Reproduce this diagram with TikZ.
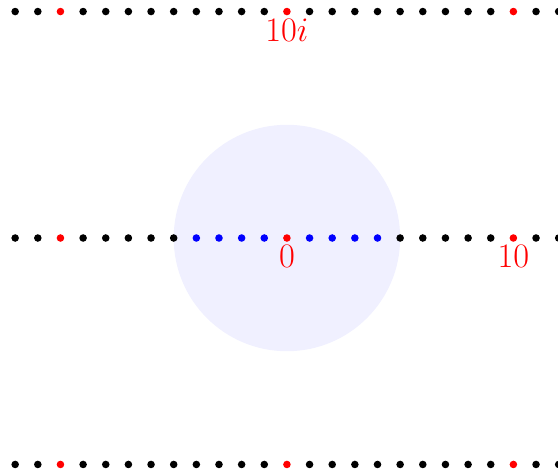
\documentclass[tikz,border=0pt]{standalone}
\usepackage{tikz}
\usetikzlibrary{positioning}
\tikzset{
  pt/.style={circle, fill=#1, inner sep=0pt, minimum size=3.8pt},
  lab/.style={text=red, font=\fontsize{16}{19}\selectfont},
  disk/.style={fill=blue!6},
}
\begin{document}
\begin{tikzpicture}[x=0.4cm, y=0.4cm]
    \useasboundingbox (-12.67,-10.48) rectangle (11.97,10.51);
    \clip (-12.67,-10.48) rectangle (11.97,10.51);
    % disk of radius 5 round the origin
    \fill[disk] (0,0) circle (5);
    % lattice points on the three rows
    \foreach \y/\r in {10/t, 0/m, -10/b}
    {
      \foreach \x in {-12,...,12}
      {
        \pgfmathtruncatemacro\k{mod(abs(\x),10)==0 ? 1 : ((\y==0 && abs(\x)<5) ? 2 : 0)}
        \ifcase\k \def\col{black}\or \def\col{red}\or \def\col{blue}\fi
        \node[pt=\col] (d\r\x) at (\x,\y) {};
      }
    }
    \node[lab, below] (lten) at (dt0) {$10i$};
    \node[lab, below] (lzero) at (dm0) {$0$};
    \node[lab, below] (lreal) at (dm10) {$10$};
  \end{tikzpicture}
\end{document}
